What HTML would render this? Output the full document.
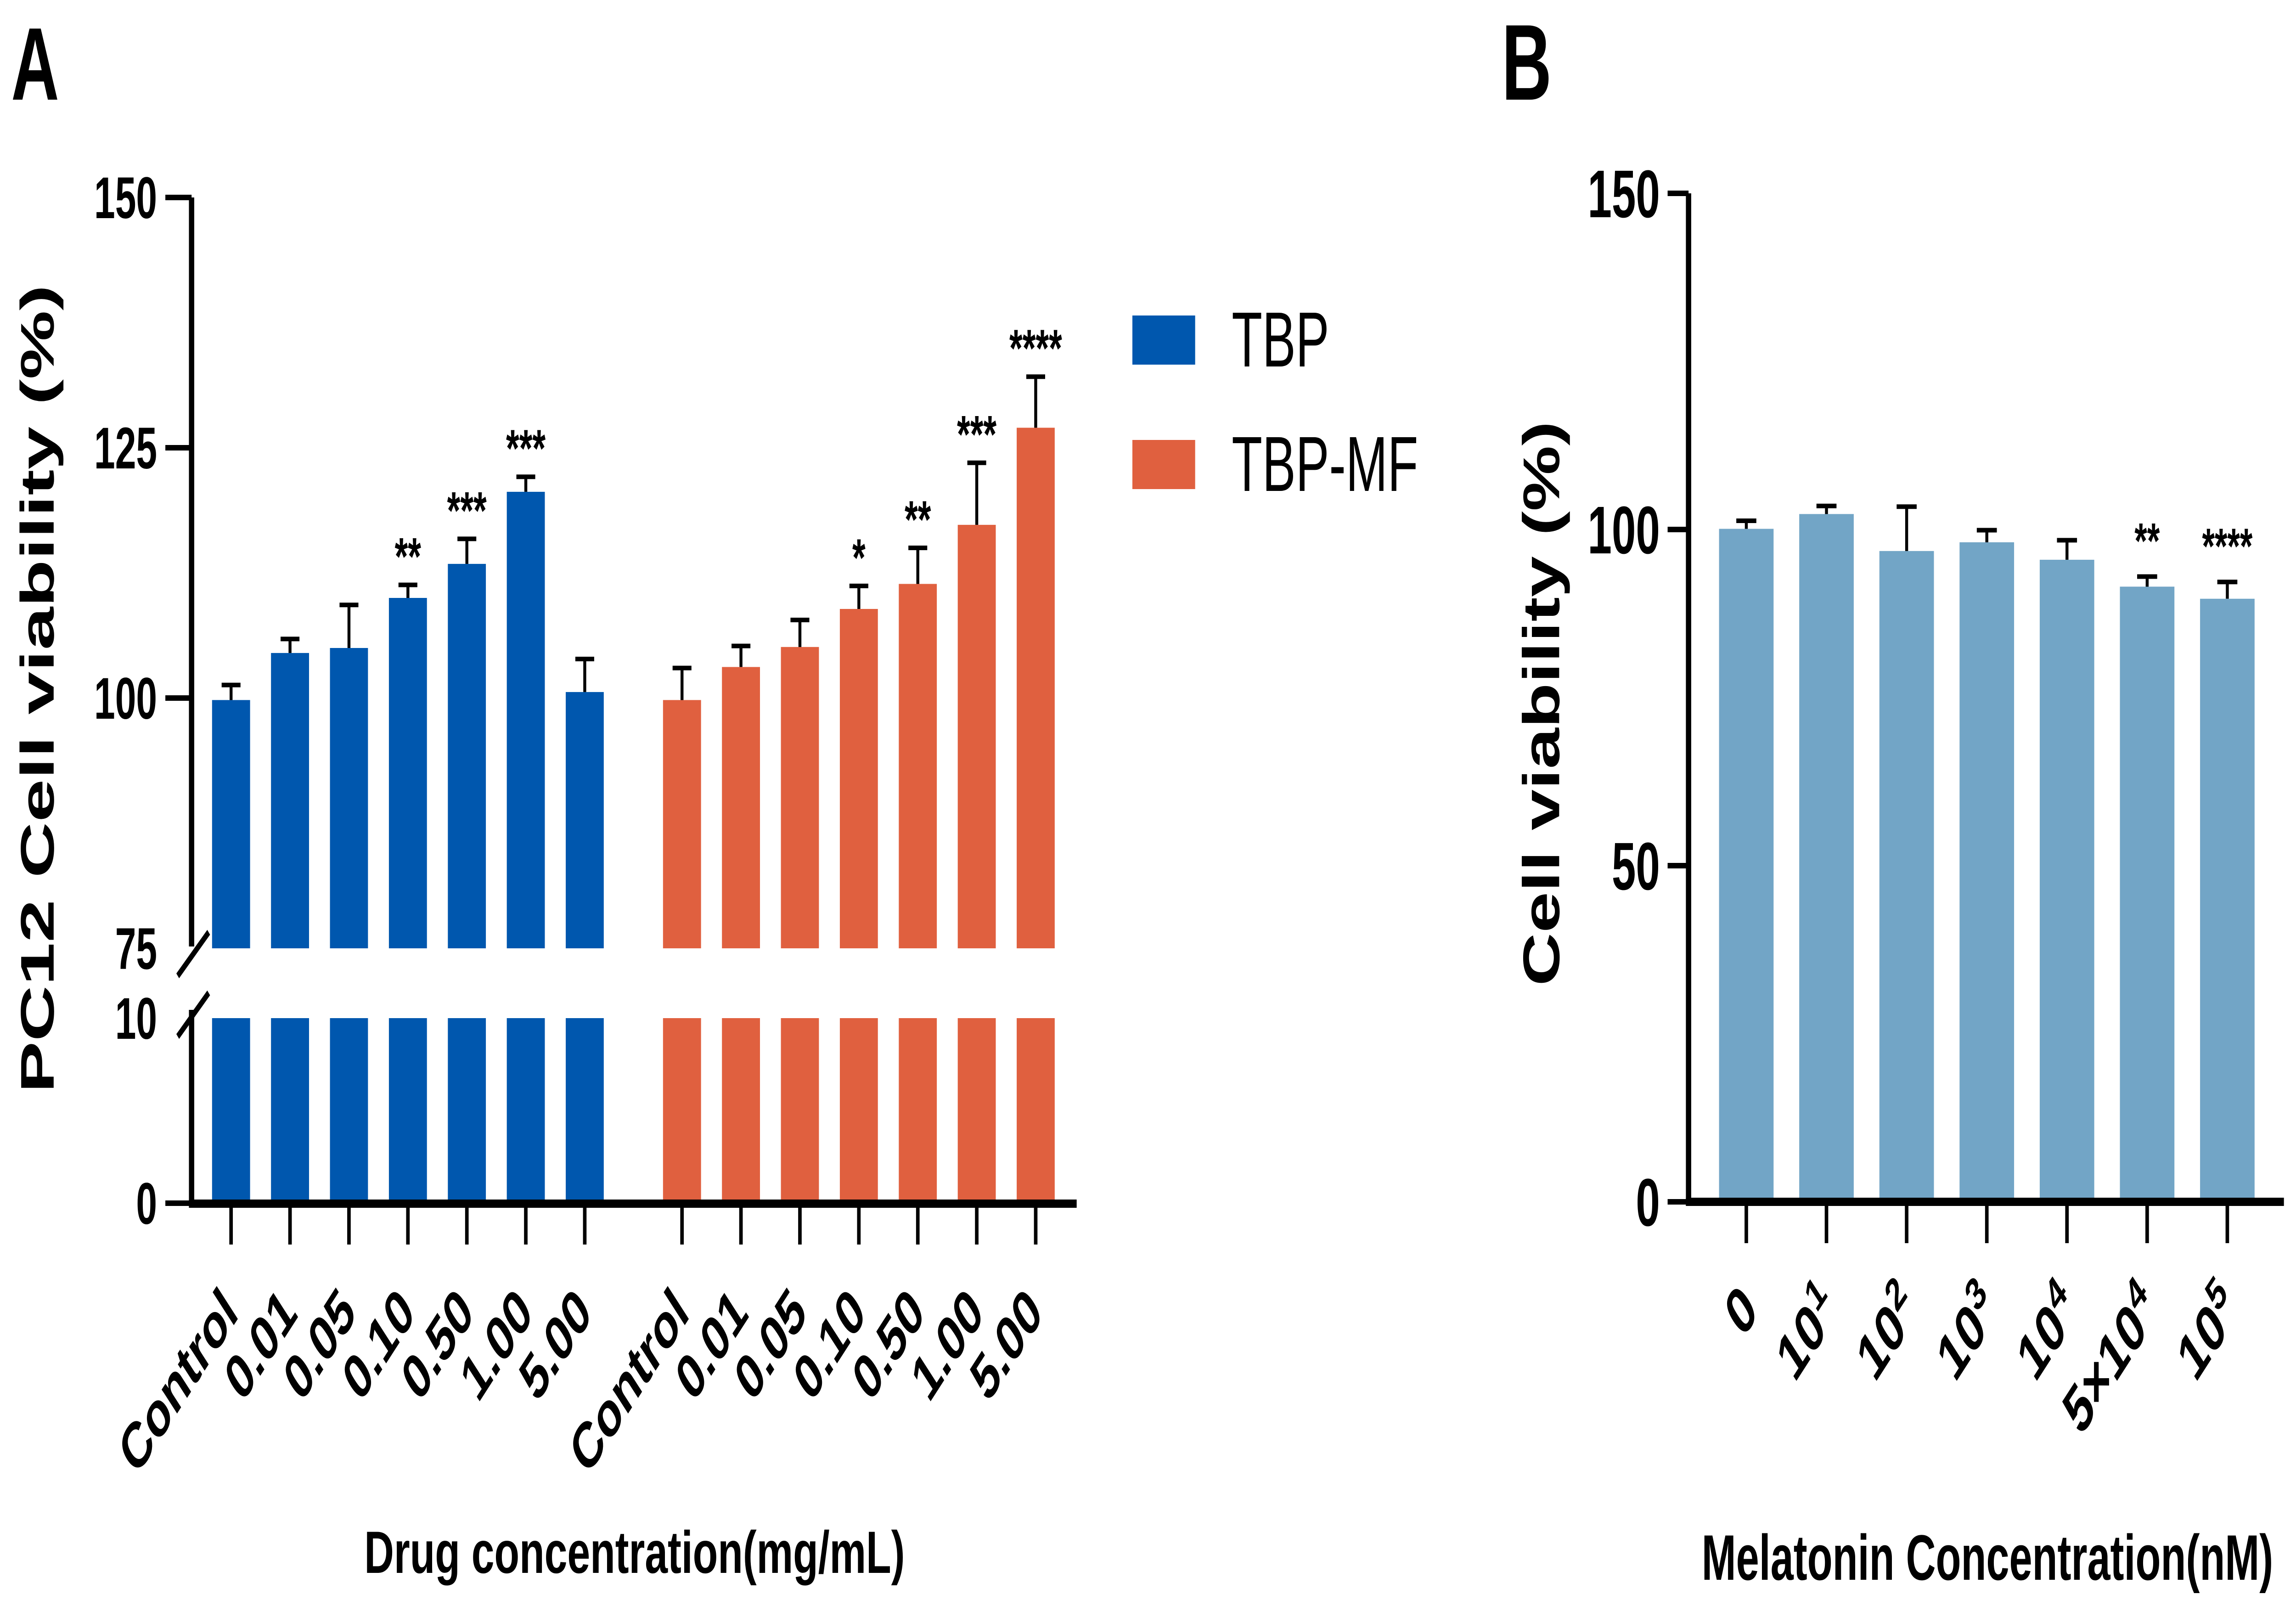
<!DOCTYPE html>
<html><head><meta charset="utf-8"><style>
html,body{margin:0;padding:0;background:#fff;width:100%;height:100%;overflow:hidden;}
svg{display:block;width:100vw;height:100vh;}
text{font-family:"Liberation Sans",Arial,sans-serif;fill:#000;}
</style></head>
<body>
<svg id="fig" xmlns="http://www.w3.org/2000/svg" viewBox="0 0 7790 3508" preserveAspectRatio="none">
<rect width="7790" height="3508" fill="#fff"/>
<g id="panelA"></g>
<g id="panelB"></g>
</svg>
<script>
// ---------- Panel A data ----------
const aCategories = ["Control","0.01","0.05","0.10","0.50","1.00","5.00"];
const tbpValues = [99.8,104.5,105.0,110.0,113.4,120.6,100.6];
const tbpErrTop = [101.3,105.9,109.3,111.3,115.9,122.1,103.9];
const tbpStars = ["","","","**","***","***",""];
const mfValues = [99.8,103.1,105.1,108.9,111.4,117.3,127.0];
const mfErrTop = [103.0,105.2,107.8,111.2,115.0,123.5,132.1];
const mfStars = ["","","","*","**","***","****"];
const aUpperTicks = [75,100,125,150];
const aLowerTicks = [0,10];
const legendLabels = ["TBP","TBP-MF"];
// ---------- Panel B data ----------
const bCategories = [["0",""],["10","1"],["10","2"],["10","3"],["10","4"],["5×10","4"],["10","5"]];
const bValues = [100.1,102.3,96.8,98.1,95.5,91.5,89.7];
const bErrTop = [101.3,103.5,103.4,99.9,98.4,93.0,92.2];
const bStars = ["","","","","","**","****"];
const bTicks = [0,50,100,150];

const NS="http://www.w3.org/2000/svg";
function mk(parent,tag,attrs,txt){const e=document.createElementNS(NS,tag);for(const k in attrs)e.setAttribute(k,attrs[k]);if(txt!==undefined)e.textContent=txt;parent.appendChild(e);return e;}

// ===== Panel A =====
const A=document.getElementById('panelA');
const axA=650;
function yUp(v){return 1520-(v-100)*21.8;}
function yLo(v){return 2620-v*40.3;}
const upBottom=yUp(75), loTop=yLo(10);
function xTBP(i){return 784+i*200;}
function xMF(i){return 2314+i*200;}
const BW=129;

let t=mk(A,'text',{x:38,y:217,'font-size':225,'font-weight':'bold'},'A');



function barsA(xf,vals,errs,stars,color,name){
  vals.forEach((v,i)=>{
    const x=xf(i);
    let r=mk(A,'rect',{x:x-BW/2,y:yUp(v),width:BW,height:upBottom-yUp(v),fill:color});
    
    
    let r2=mk(A,'rect',{x:x-BW/2,y:loTop,width:BW,height:yLo(0)-loTop,fill:color});
    
    
    let e=mk(A,'path',{d:`M${x} ${yUp(v)} V${yUp(errs[i])} M${x-32} ${yUp(errs[i])} H${x+32}`,stroke:'#000','stroke-width':10,fill:'none'});
    
    
    if(stars[i]){
      let s=mk(A,'text',{x:x,y:yUp(errs[i])-22,'font-size':115,'font-weight':'bold','text-anchor':'middle'},stars[i]);
      
      
    }
  });
}
barsA(xTBP,tbpValues,tbpErrTop,tbpStars,'#0057AE','tbp');
barsA(xMF,mfValues,mfErrTop,mfStars,'#E0603F','tbp-mf');

let ya=mk(A,'path',{d:`M${axA} ${yUp(150)} V${upBottom-4} M${axA} ${loTop-18} V${yLo(0)+9}`,stroke:'#000','stroke-width':18,fill:'none'});


let br=mk(A,'path',{d:`M603 2125 L708 2030 M603 2257 L708 2162`,stroke:'#000','stroke-width':14,fill:'none'});


let xa=mk(A,'line',{x1:axA-9,y1:yLo(0)+1,x2:3653,y2:yLo(0)+1,stroke:'#000','stroke-width':18});


function yTickA(v,y){
  let l=mk(A,'line',{x1:561,y1:y,x2:axA,y2:y,stroke:'#000','stroke-width':12});
  
  
  let tx=mk(A,'text',{x:533,y:y+45,'font-size':128,'font-weight':'bold','text-anchor':'end'},String(v));
  
  
}
aUpperTicks.forEach(v=>{ if(v===75){ let tx=mk(A,'text',{x:533,y:yUp(75)+45,'font-size':128,'font-weight':'bold','text-anchor':'end'},'75');   } else yTickA(v,yUp(v)); });
aLowerTicks.forEach(v=>{ if(v===10){ let tx=mk(A,'text',{x:533,y:yLo(10)+45,'font-size':128,'font-weight':'bold','text-anchor':'end'},'10');   } else yTickA(v,yLo(v)); });

function xLabelA(x,label,idx,grp){
  let l=mk(A,'line',{x1:x,y1:yLo(0),x2:x,y2:2710,stroke:'#000','stroke-width':12});
  
  
  let tx=mk(A,'text',{x:0,y:0,'font-size':140,'font-weight':'bold','text-anchor':'end',transform:`translate(${x+30},2865) rotate(-45)`},label);
  
  
}
aCategories.forEach((c,i)=>{xLabelA(xTBP(i),c,i,'tbp');xLabelA(xMF(i),c,i,'tbp-mf');});

let yt=mk(A,'text',{x:0,y:0,'font-size':160,'font-weight':'bold','text-anchor':'middle',textLength:1760,lengthAdjust:'spacingAndGlyphs',transform:'translate(182,1500) rotate(-90)'},'PC12  Cell viability (%)');


let xt=mk(A,'text',{x:2153,y:3425,'font-size':130,'font-weight':'bold','text-anchor':'middle',textLength:1834,lengthAdjust:'spacingAndGlyphs'},'Drug concentration(mg/mL)');



const legColors=['#0057AE','#E0603F'];
legendLabels.forEach((lab,i)=>{
  const y0=687+i*271;
  let sw=mk(A,'rect',{x:3842,y:y0,width:213,height:107,fill:legColors[i]});
  
  
  let lt=mk(A,'text',{x:4179,y:y0+111,'font-size':170},lab);
  
  
});

// ===== Panel B =====
const B=document.getElementById('panelB');
const axB=5729;
function yB(v){return 2617-v*14.64;}
function xB(i){return 5925+i*272;}
const BWB=185;
let lb=mk(B,'text',{x:5095,y:217,'font-size':235,'font-weight':'bold'},'B');


bValues.forEach((v,i)=>{
  const x=xB(i);
  let r=mk(B,'rect',{x:x-BWB/2,y:yB(v),width:BWB,height:yB(0)-yB(v),fill:'#72A5C6'});
  
  
  let e=mk(B,'path',{d:`M${x} ${yB(v)} V${yB(bErrTop[i])} M${x-34} ${yB(bErrTop[i])} H${x+34}`,stroke:'#000','stroke-width':10,fill:'none'});
  
  
  if(bStars[i]){
    let s=mk(B,'text',{x:x,y:yB(bErrTop[i])-40,'font-size':110,'font-weight':'bold','text-anchor':'middle'},bStars[i]);
    
    
  }
  let l=mk(B,'line',{x1:x,y1:yB(0),x2:x,y2:2707,stroke:'#000','stroke-width':12});
  
  
  let tx=mk(B,'text',{x:0,y:0,'font-size':145,'font-weight':'bold','text-anchor':'end',transform:`translate(${x+45},2860) rotate(-45)`});
  
  
  const base=document.createElementNS(NS,'tspan');base.textContent=bCategories[i][0];tx.appendChild(base);
  if(bCategories[i][1]){const sp=document.createElementNS(NS,'tspan');sp.setAttribute('dy','-55');sp.setAttribute('font-size','100');sp.textContent=bCategories[i][1];tx.appendChild(sp);}
});
let yab=mk(B,'line',{x1:axB,y1:yB(150),x2:axB,y2:yB(0)+9,stroke:'#000','stroke-width':18});


let xab=mk(B,'line',{x1:axB-9,y1:yB(0),x2:7749,y2:yB(0),stroke:'#000','stroke-width':18});


bTicks.forEach(v=>{
  let l=mk(B,'line',{x1:5658,y1:yB(v),x2:axB,y2:yB(v),stroke:'#000','stroke-width':12});
  
  
  let tx=mk(B,'text',{x:5632,y:yB(v)+52,'font-size':147,'font-weight':'bold','text-anchor':'end'},String(v));
  
  
});
let ybt=mk(B,'text',{x:0,y:0,'font-size':175,'font-weight':'bold','text-anchor':'middle',textLength:1230,lengthAdjust:'spacingAndGlyphs',transform:'translate(5290,1532) rotate(-90)'},'Cell viability (%)');


let xbt=mk(B,'text',{x:6743,y:3440,'font-size':140,'font-weight':'bold','text-anchor':'middle',textLength:1939,lengthAdjust:'spacingAndGlyphs'},'Melatonin Concentration(nM)');


</script>
</body></html>
